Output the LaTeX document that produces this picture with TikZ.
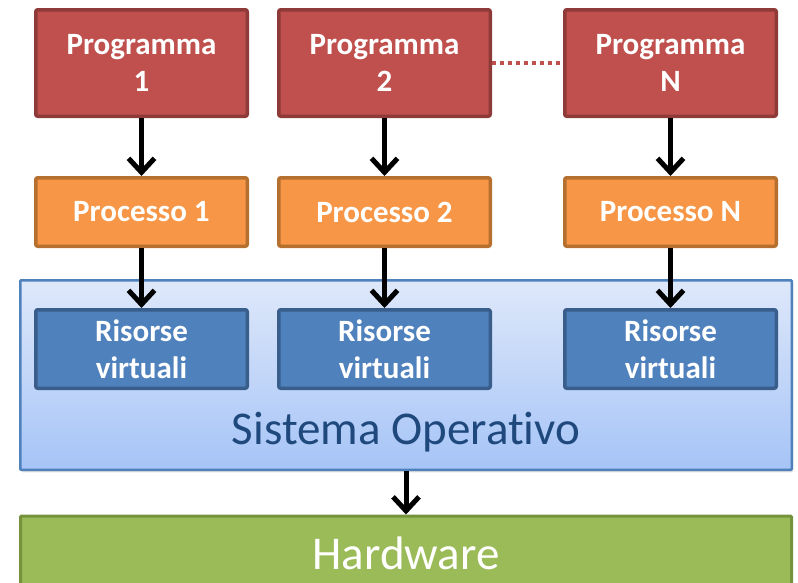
\documentclass[tikz,border=0pt]{standalone}
\usepackage{fontspec}
\setmainfont[Ligatures=CommonOff]{Carlito}
\usetikzlibrary{positioning, arrows.meta, shadows}

\definecolor{progfill}{HTML}{C0504D}
\definecolor{progline}{HTML}{8E3A38}
\definecolor{procfill}{HTML}{F79646}
\definecolor{procline}{HTML}{B5702F}
\definecolor{resfill}{HTML}{4F81BD}
\definecolor{resline}{HTML}{3A5E8B}
\definecolor{ostop}{HTML}{DEE8FA}
\definecolor{osbottom}{HTML}{A6C4F7}
\definecolor{osline}{HTML}{4F81BD}
\definecolor{ostext}{HTML}{1F497D}
\definecolor{hwfill}{HTML}{9BBB59}
\definecolor{hwline}{HTML}{76923C}

\begin{document}
\begin{tikzpicture}[x=1pt, y=-1pt, node distance=58pt and 28pt,
 box/.style={rectangle, rounded corners=2pt, line width=3.5pt, text=white,
   align=center, inner sep=0pt, minimum width=211.5pt,
   font=\bfseries\fontsize{31}{37}\selectfont},
 prog node/.style={box, draw=progline, fill=progfill, minimum height=106.5pt},
 proc node/.style={box, draw=procline, fill=procfill, minimum height=68.5pt},
 res node/.style={box, draw=resline, fill=resfill, minimum height=78.5pt},
 os box/.style={rectangle, rounded corners=1pt, draw=osline, line width=2.5pt,
   top color=ostop, bottom color=osbottom, minimum width=771.5pt, minimum height=189.5pt,
   drop shadow={shadow xshift=1.5pt, shadow yshift=-2.5pt, opacity=0.25}},
 hw box/.style={rectangle, rounded corners=1pt, draw=hwline, line width=3pt, fill=hwfill,
   text=white, minimum width=771pt, minimum height=74pt,
   font=\fontsize{47}{47}\selectfont},
 os label/.style={text=ostext, font=\fontsize{47}{47}\selectfont, inner sep=0pt},
 flow/.style={line width=5pt, -{Straight Barb[length=14pt, width=26pt]}},
 dots/.style={progfill, line width=4pt, dash pattern=on 4pt off 4pt}]

  \useasboundingbox (0,0) rectangle (798,582);
  \clip (0,0) rectangle (798,582);

  \node[prog node] (p1) at (141.5,63) {Programma\\1};
  \node[prog node] (p2) [right=of p1] {Programma\\2};
  \node[prog node] (pn) [right=71pt of p2] {Programma\\N};

  \node[proc node] (c1) [below=of p1] {Processo 1};
  \node[proc node] (c2) [below=of p2] {Processo 2};
  \node[proc node] (cn) [below=of pn] {Processo N};

  \node[os box] (os) at (406,375) {};
  \node[os label] (oslabel) at (406,432) {Sistema Operativo};

  \node[res node] (r1) [below=60pt of c1] {Risorse\\virtuali};
  \node[res node] (r2) [below=60pt of c2] {Risorse\\virtuali};
  \node[res node] (rn) [below=60pt of cn] {Risorse\\virtuali};

  \node[hw box] (hw) at (406,553) {Hardware};

  \draw[dots] (p2) -- (pn);

  \foreach \s/\t in {p1/c1, p2/c2, pn/cn, c1/r1, c2/r2, cn/rn, os/hw} {
   \draw[flow] (\s) -- (\t);}
\end{tikzpicture}
\end{document}
